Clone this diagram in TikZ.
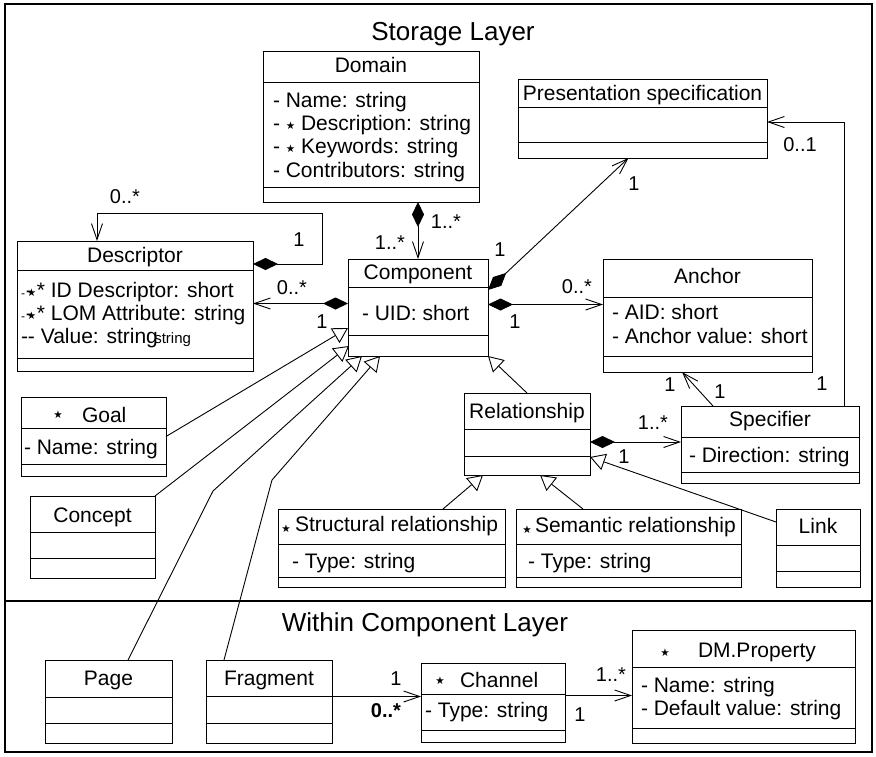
\documentclass[tikz,border=0pt]{standalone}
\usepackage{fontspec}
\setmainfont{Liberation Sans}
\newfontfamily\symfont{DejaVu Sans}
\usepackage{graphicx}
\usetikzlibrary{arrows.meta,calc}

\newcommand\smallstar{\raisebox{1pt}{\symfont\fontsize{10.5}{10.5}\selectfont ★}}
% class box: name, x1, y1, x2, y2, first divider y, second divider y
\newcommand\umlclass[7]{%
  \node[clsbox, minimum width={(#4-#2)*1pt}, minimum height={(#5-#3)*1pt}] (#1) at (#2,#3) {};
  \draw[divider] (#2,#6) -- (#4,#6);
  \draw[divider] (#2,#7) -- (#4,#7);
}
% garbled key marker in front of the descriptor attributes
\newcommand\keymark{{\fontsize{12}{12}\selectfont -}\kern1pt-\kern-6pt\smallstar\kern0.5pt*}

\begin{document}
\begin{tikzpicture}[x=1pt,y=-1pt,
  clsbox/.style={draw=black, line width=1pt, inner sep=0pt, outer sep=0pt, anchor=north west},
  divider/.style={draw=black, line width=1pt},
  txt/.style={inner sep=0pt, outer sep=0pt, font=\fontsize{21}{24}\selectfont},
  ttl/.style={txt, anchor=base},
  att/.style={txt, anchor=base west},
  sym/.style={txt, anchor=center},
  mult/.style={inner sep=0pt, outer sep=0pt, anchor=center, font=\fontsize{20}{24}\selectfont},
  layer/.style={inner sep=0pt, anchor=base, font=\fontsize{26}{30}\selectfont},
  conn/.style={draw=black, line width=0.9pt},
  nav/.style={conn, -{Straight Barb[length=16pt,width=11pt,line width=0.9pt]}},
  compnav/.style={conn, {Diamond[length=25pt,width=12pt]}-{Straight Barb[length=16pt,width=11pt,line width=0.9pt]}},
  gen/.style={conn, -{Triangle[length=15pt,width=17pt,fill=white,line width=0.9pt]}}
]
\useasboundingbox (0,0) rectangle (876,756);

% outer frame and layer separator
\draw[line width=2pt] (5,4) rectangle (872,752);
\draw[line width=1.2pt] (5,601) -- (872,601);
\node[layer] (storage) at (453,40) {Storage Layer};
\node[layer] (within) at (425,631) {Within Component Layer};

% classes
\umlclass{dom}{263}{51}{479}{202}{82}{187}
\umlclass{pres}{518}{79}{767}{158}{107}{142}
\umlclass{comp}{348}{259}{488}{356}{287}{335}
\umlclass{anc}{603}{259}{812}{372}{297}{356}
\umlclass{desc}{17}{241}{253}{371}{270}{358}
\umlclass{goal}{21}{397}{166}{476}{428}{464}
\umlclass{conc}{30}{496}{155}{578}{532}{558}
\umlclass{rel}{464}{393}{590}{475}{429}{456}
\umlclass{spec}{681}{406}{859}{483}{437}{472}
\umlclass{struc}{278}{509}{505}{587}{544}{577}
\umlclass{sem}{516}{509}{741}{587}{544}{577}
\umlclass{link}{776}{509}{860}{587}{545}{571}
\umlclass{page}{45}{660}{172}{743}{697}{723}
\umlclass{frag}{206}{660}{332}{743}{696}{723}
\umlclass{chan}{421}{663}{565}{742}{694}{730}
\umlclass{dmp}{632}{630}{855}{743}{667}{728}

% class names
\node[ttl] (dom-t) at (371,72) {Domain};
\node[ttl] (pres-t) at (642.5,100) {Presentation specification};
\node[ttl] (comp-t) at (418,279) {Component};
\node[ttl] (anc-t) at (707.5,283) {Anchor};
\node[ttl] (desc-t) at (135,262) {Descriptor};
\node[sym] (goal-s) at (58,415) {\smallstar};
\node[att] (goal-t) at (82,422) {Goal};
\node[ttl] (conc-t) at (92.5,522) {Concept};
\node[ttl] (rel-t) at (527,418) {Relationship};
\node[ttl] (spec-t) at (770,426) {Specifier};
\node[sym] (struc-s) at (286,529) {\smallstar};
\node[att] (struc-t) at (295,531) {Structural relationship};
\node[sym] (sem-s) at (527,530) {\smallstar};
\node[att] (sem-t) at (535,532) {Semantic relationship};
\node[ttl] (link-t) at (818,533) {Link};
\node[ttl] (page-t) at (108.5,685) {Page};
\node[ttl] (frag-t) at (269,685) {Fragment};
\node[sym] (chan-s) at (440,681) {\smallstar};
\node[att] (chan-t) at (460,687) {Channel};
\node[sym] (dmp-s) at (665,653) {\smallstar};
\node[att] (dmp-t) at (698,657) {DM.Property};

% attributes
\node[att] (dom-a1) at (273,107) {- Name: string};
\node[att] (dom-a2) at (273,130) {- \smallstar{} Description: string};
\node[att] (dom-a3) at (273,153) {- \smallstar{} Keywords: string};
\node[att] (dom-a4) at (273,177) {- Contributors: string};
\node[att] (comp-a1) at (362,320) {- UID: short};
\node[att] (anc-a1) at (612,319) {- AID: short};
\node[att] (anc-a2) at (612,343) {- Anchor value: short};
\node[att] (desc-a1) at (21,297) {\keymark{} ID Descriptor: short};
\node[att] (desc-a2) at (21,320) {\keymark{} LOM Attribute: string};
\node[att] (desc-a3) at (21,343) {-{}- Value: strin\rlap{g}\kern8pt{\fontsize{15}{15}\selectfont string}};
\node[att] (goal-a1) at (24,454) {- Name: string};
\node[att] (struc-a1) at (292,568) {- Type: string};
\node[att] (sem-a1) at (528,568) {- Type: string};
\node[att] (spec-a1) at (689,462) {- Direction: string};
\node[att] (chan-a1) at (425,717) {- Type: string};
\node[att] (dmp-a1) at (641,692) {- Name: string};
\node[att] (dmp-a2) at (641,715) {- Default value: string};

% compositions and associations
\draw[compnav] ($(desc.north east)+(0,23)$) -- ++(69,0) |- ($(desc.north west)+(80,-28)$) -- ($(desc.north west)+(80,0)$);
\coordinate (cdl) at ($(comp.west)+(0,-4)$);
\draw[compnav] (cdl) -- (cdl -| desc.east);
\draw[compnav] (comp.north |- dom.south) -- (comp.north);
\draw[compnav] ($(comp.north east)+(0,31)$) -- ($(pres.south)+(-14,0)$);
\coordinate (cal) at ($(comp.east)+(0,-3)$);
\draw[compnav] (cal) -- (cal -| anc.west);
\coordinate (rsl) at ($(rel.east)+(0,8)$);
\draw[compnav] (rsl) -- (rsl -| spec.west);
\draw[nav] ($(spec.north west)+(32,0)$) -- ($(anc.south west)+(79,0)$);
\draw[nav] ($(spec.north east)+(-15,0)$) |- ($(pres.east)+(0,3.5)$);
\coordinate (fcl) at ($(frag.east)+(0,-5)$);
\draw[nav] (fcl) -- (fcl -| chan.west);
\coordinate (cdm) at ($(chan.east)+(0,-7)$);
\draw[nav] (cdm) -- (cdm -| dmp.west);

% generalizations
\draw[gen] (goal.east) -- ($(comp.south west)+(0,-28)$);
\draw[gen] (conc.north east) -- ($(comp.south west)+(1,-10)$);
\draw[gen] ($(page.north)+(19.5,0)$) -- ++(85,-169) -- ($(comp.south west)+(14,0)$);
\draw[gen] ($(frag.north west)+(18,0)$) -- ++(48,-180) -- ($(comp.south west)+(32,0)$);
\draw[gen] (rel.north) -- (comp.south east);
\draw[gen] ($(struc.north west)+(165,0)$) -- ($(rel.south west)+(19,0)$);
\draw[gen] ($(sem.north west)+(67,0)$) -- ($(rel.south west)+(76,0)$);
\draw[gen] ($(link.north west)+(0,13)$) -- ($(rel.south east)+(0,-18)$);

% multiplicities
\node[mult] (m-dd1) at (125,197) {0..*};
\node[mult] (m-dd2) at (299,240) {1};
\node[mult] (m-cd1) at (292,288) {0..*};
\node[mult] (m-cd2) at (322,322) {1};
\node[mult] (m-dc1) at (446,222) {1..*};
\node[mult] (m-dc2) at (390,243) {1..*};
\node[mult] (m-cp1) at (500,250) {1};
\node[mult] (m-cp2) at (634,184) {1};
\node[mult] (m-ca1) at (577,287) {0..*};
\node[mult] (m-ca2) at (515,322) {1};
\node[mult] (m-rs1) at (653,423) {1..*};
\node[mult] (m-rs2) at (624,457) {1};
\node[mult] (m-sa1) at (670,385) {1};
\node[mult] (m-sa2) at (720,392) {1};
\node[mult] (m-sp1) at (800,145) {0..1};
\node[mult] (m-sp2) at (822,384) {1};
\node[mult] (m-fc1) at (396,679) {1};
\node[mult] (m-fc2) at (386,711) {\textbf{0..*}};
\node[mult] (m-ch1) at (611,675) {1..*};
\node[mult] (m-ch2) at (580,715) {1};
\end{tikzpicture}
\end{document}
